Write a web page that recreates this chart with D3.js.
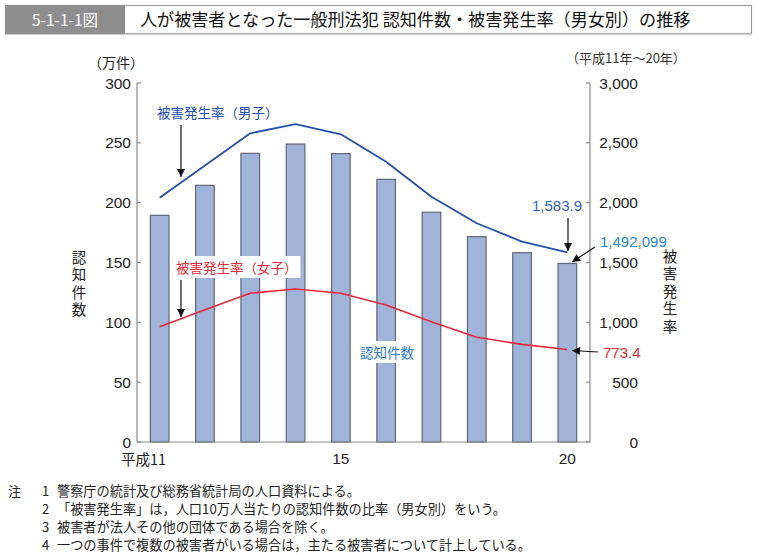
<!DOCTYPE html>
<html><head><meta charset="utf-8">
<script src="https://cdn.jsdelivr.net/npm/d3@7"></script>
<style>
body{margin:0;background:#fff;}
svg{display:block;}
text{font-family:"Liberation Sans","Noto Sans CJK JP",sans-serif;}
.jp{font-family:"Noto Sans CJK JP",sans-serif;}
</style></head><body>
<svg id="c" width="759" height="555"></svg>
<script>
const years = [11,12,13,14,15,16,17,18,19,20];
const xTickLabels = {11:"平成11",15:"15",20:"20"};
const counts = [189.4, 214.5, 241.2, 249.0, 241.0, 219.5, 192.0, 171.6, 158.2, 149.2099]; // 万件
const maleRate = [2042, 2310, 2580, 2657, 2571, 2342, 2050, 1828, 1674, 1583.9];
const femaleRate = [963, 1105, 1243, 1278, 1243, 1145, 1005, 875, 816, 773.4];
const leftTicks = [0,50,100,150,200,250,300];
const rightTicks = [0,500,1000,1500,2000,2500,3000];
const notes = [
 ["注","1","警察庁の統計及び総務省統計局の人口資料による。"],
 ["","2","「被害発生率」は，人口10万人当たりの認知件数の比率（男女別）をいう。"],
 ["","3","被害者が法人その他の団体である場合を除く。"],
 ["","4","一つの事件で複数の被害者がいる場合は，主たる被害者について計上している。"]
];

const svg = d3.select("#c");
const L = 137, R = 590, T = 83, B = 442;
const x = d3.scaleBand().domain(years).range([L, R]).padding(0);
const yL = d3.scaleLinear().domain([0,300]).range([B, T]);
const yR = d3.scaleLinear().domain([0,3000]).range([B, T]);
const cx = d => x(d) + x.bandwidth()/2;
const bw = 18.6;

svg.append("defs").append("marker").attr("id","ah").attr("viewBox","0 0 10 10")
  .attr("refX",10).attr("refY",5).attr("markerWidth",10).attr("markerHeight",8)
  .attr("markerUnits","userSpaceOnUse").attr("orient","auto")
  .append("path").attr("d","M0,0 L10,5 L0,10 Z").attr("fill","#111");

// Header
svg.append("rect").attr("x",5.5).attr("y",5.5).attr("width",746).attr("height",28)
  .attr("fill","#fff").attr("stroke","#9a9a9a").attr("stroke-width",1.2);
svg.append("line").attr("x1",5).attr("x2",752).attr("y1",34).attr("y2",34).attr("stroke","#bdbdbd").attr("stroke-width",1.5);
svg.append("rect").attr("x",5).attr("y",5).attr("width",120).attr("height",29).attr("fill","#8e8e8e");
svg.append("text").attr("class","jp").attr("x",65).attr("y",25.5).attr("text-anchor","middle")
  .attr("fill","#fff").attr("font-size",15.5).text("5-1-1-1図");
svg.append("text").attr("class","jp").attr("x",140).attr("y",25.5).attr("fill","#111")
  .attr("font-size",17.1).text("人が被害者となった一般刑法犯 認知件数・被害発生率（男女別）の推移");

// Bars
svg.append("g").selectAll("rect").data(years).join("rect")
  .attr("x", (d)=>cx(d)-bw/2).attr("width", bw)
  .attr("y", (d,i)=>yL(counts[i])).attr("height",(d,i)=>B-yL(counts[i]))
  .attr("fill","#a0b3d8").attr("stroke","#5f6675").attr("stroke-width",1.2);

// Axes
const ax = svg.append("g").attr("stroke","#8a8a8a").attr("stroke-width",1.2);
ax.append("line").attr("x1",L).attr("x2",L).attr("y1",T).attr("y2",B);
ax.append("line").attr("x1",R).attr("x2",R).attr("y1",T).attr("y2",B);
ax.append("line").attr("x1",L).attr("x2",R).attr("y1",B).attr("y2",B);
leftTicks.forEach(t=>{
  ax.append("line").attr("x1",L).attr("x2",L+4).attr("y1",yL(t)).attr("y2",yL(t));
  svg.append("text").attr("x",131).attr("y",yL(t)+5.5).attr("text-anchor","end")
    .attr("font-size",15.5).attr("fill","#222").text(t);
});
rightTicks.forEach(t=>{
  ax.append("line").attr("x1",R-4).attr("x2",R).attr("y1",yR(t)).attr("y2",yR(t));
  svg.append("text").attr("x",638).attr("y",yR(t)+5.5).attr("text-anchor","end")
    .attr("font-size",15.5).attr("fill","#222").text(d3.format(",")(t));
});
years.forEach(y=>{
  if(!xTickLabels[y]) return;
  const lbl = xTickLabels[y];
  if(y===11){
    svg.append("text").attr("class","jp").attr("x",cx(y)+6.5).attr("y",465).attr("text-anchor","end")
      .attr("font-size",14.5).attr("fill","#222").text(lbl);
  } else {
    svg.append("text").attr("x",cx(y)).attr("y",464).attr("text-anchor","middle")
      .attr("font-size",15.5).attr("fill","#222").text(lbl);
  }
});

// axis titles
svg.append("text").attr("class","jp").attr("x",88).attr("y",68).attr("font-size",14).attr("fill","#222").text("（万件）");
svg.append("text").attr("class","jp").attr("x",566).attr("y",63).attr("font-size",13).attr("fill","#333").text("（平成11年～20年）");
svg.append("text").attr("class","jp").attr("x",79).attr("y",250)
  .style("writing-mode","vertical-rl").style("text-orientation","upright").style("letter-spacing","3px")
  .attr("font-size",14.5).attr("fill","#222").text("認知件数");
svg.append("text").attr("class","jp").attr("x",670).attr("y",249)
  .style("writing-mode","vertical-rl").style("text-orientation","upright").style("letter-spacing","3px")
  .attr("font-size",14.5).attr("fill","#222").text("被害発生率");

// Lines
const line = (arr)=>d3.line().x((d,i)=>cx(years[i])).y(d=>yR(d)).curve(d3.curveLinear)(arr);
svg.append("path").attr("d",line(maleRate)).attr("fill","none").attr("stroke","#2450b0").attr("stroke-width",1.8).attr("stroke-linejoin","round");
svg.append("path").attr("d",line(femaleRate)).attr("fill","none").attr("stroke","#e8283c").attr("stroke-width",1.6).attr("stroke-linejoin","round");

function label(txt, xx, yy, col, size, bg, anchor){
  const g = svg.append("g");
  const t = g.append("text").attr("class","jp").attr("x",xx).attr("y",yy).attr("font-size",size)
    .attr("fill",col).attr("text-anchor",anchor||"start").text(txt);
  if(bg){
    const bb = t.node().getBBox();
    g.insert("rect","text").attr("x",bb.x-3).attr("y",bb.y-1).attr("width",bb.width+6).attr("height",bb.height+2).attr("fill","#fff");
  }
}
function arrow(x1,y1,x2,y2){
  svg.append("line").attr("x1",x1).attr("y1",y1).attr("x2",x2).attr("y2",y2)
    .attr("stroke","#111").attr("stroke-width",1.2).attr("marker-end","url(#ah)");
}
label("被害発生率（男子）",157,118,"#2450b0",13.5,false);
arrow(181,125,181,177);
label("被害発生率（女子）",176,273,"#e8283c",13.5,true);
arrow(181,280,181,317);
label("認知件数",360,358,"#2a7cc8",13.5,true);

svg.append("text").attr("x",582).attr("y",210.5).attr("text-anchor","end").attr("font-size",15).attr("fill","#2f66c0").text(d3.format(",.1f")(maleRate[9]));
arrow(568,218,568,251);
svg.append("text").attr("x",600).attr("y",246.5).attr("font-size",15).attr("fill","#1f8ad0").text(d3.format(",")(Math.round(counts[9]*10000)));
arrow(595,247,572,262);
svg.append("text").attr("x",603).attr("y",357.5).attr("font-size",15).attr("fill","#e8283c").text(femaleRate[9]);
arrow(598,352,572,350.5);

notes.forEach((n,i)=>{
  const yy = 496 + i*18;
  if(n[0]) svg.append("text").attr("class","jp").attr("x",8).attr("y",yy).attr("font-size",13).attr("fill","#222").text(n[0]);
  svg.append("text").attr("class","jp").attr("x",42).attr("y",yy).attr("font-size",13).attr("fill","#222").text(n[1]);
  svg.append("text").attr("class","jp").attr("x",57).attr("y",yy).attr("font-size",13.2).attr("fill","#222").text(n[2]);
});
</script></body></html>
